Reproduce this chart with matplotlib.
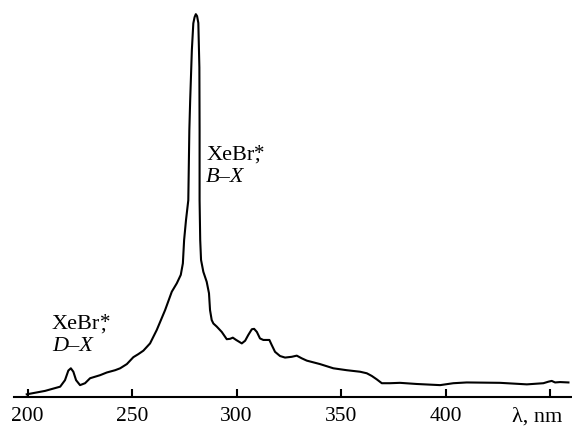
import numpy as np
import matplotlib
matplotlib.use("Agg")
import matplotlib.pyplot as plt

# emission spectrum (wavelength in nm, intensity in arb. units, peak = 100)
wl = [199.6, 208.4, 215.6, 217.9, 219.5, 220.7, 221.9, 223.2, 225.1, 227.5,
      229.9, 234.7, 237.9, 241.9, 244.3, 247.5, 250.6, 253.0, 255.4, 258.6,
      261.8, 265.8, 269.0, 271.4, 273.3, 274.3, 274.9, 275.8, 276.9, 277.4,
      277.8, 278.6, 279.3, 279.9, 280.5, 281.1, 281.7, 282.2, 282.3, 282.3,
      282.6, 283.0, 284.1, 285.7, 286.8, 287.3, 288.1, 288.9, 290.5, 292.9,
      295.3, 296.9, 298.2, 299.8, 302.5, 304.1, 305.6, 307.3, 308.4, 309.7,
      311.2, 312.8, 315.7, 316.8, 318.4, 320.8, 323.2, 326.4, 328.8, 331.2,
      333.6, 339.9, 346.3, 352.7, 359.1, 362.3, 364.7, 367.1, 369.5, 373.4,
      378.2, 386.2, 397.4, 403.7, 410.1, 426.1, 438.9, 446.8, 449.2, 450.8,
      452.4, 454.8, 458.8]
inten = [0.7, 1.6, 2.7, 4.4, 6.9, 7.5, 6.6, 4.4, 3.1, 3.6,
         4.9, 5.7, 6.4, 7.0, 7.5, 8.6, 10.4, 11.2, 12.1, 14.0,
         17.5, 22.7, 27.5, 29.7, 31.9, 34.9, 41.0, 46.2, 51.4, 69.7,
         77.5, 90.6, 97.6, 99.2, 100.0, 99.5, 97.7, 86.1, 69.7, 51.4,
         41.0, 35.8, 32.7, 30.1, 27.1, 22.7, 20.1, 19.2, 18.4, 17.0,
         15.1, 15.2, 15.5, 14.9, 14.0, 14.7, 16.2, 17.7, 17.8, 17.0,
         15.3, 14.9, 14.9, 13.6, 11.8, 10.7, 10.3, 10.5, 10.8, 10.1,
         9.5, 8.6, 7.5, 7.0, 6.6, 6.2, 5.5, 4.6, 3.6, 3.6,
         3.7, 3.4, 3.1, 3.6, 3.8, 3.7, 3.3, 3.6, 4.0, 4.2,
         3.8, 3.9, 3.8]

ticks = [200, 250, 300, 350, 400, 450]
tick_labels = ["200", "250", "300", "350", "400", ""]

plt.rcParams['font.family'] = ['Liberation Serif', 'DejaVu Serif']

fig = plt.figure(figsize=(5.72, 4.26), dpi=100)
ax = fig.add_axes([14/572, 29/426, 1 - 14/572, 1 - 29/426])

ax.plot(wl, inten, color='black', lw=1.5, solid_joinstyle='round')

ax.set_xlim(193.5, 460.5)
ax.set_ylim(0, 103.7)

for s in ['top', 'left', 'right']:
    ax.spines[s].set_visible(False)
ax.spines['bottom'].set_linewidth(1.5)

ax.set_xticks(ticks)
ax.set_xticklabels(tick_labels)
ax.set_yticks([])
ax.tick_params(axis='x', direction='in', length=6, width=1.5, pad=7, labelsize=15.5)

ax.text(431.8, -2.7, "λ, nm", fontsize=16, ha='left', va='top', clip_on=False)


def label(x, y, second):
    t = ax.text(x, y, "XeBr", fontsize=16, ha='left', va='baseline')
    ax.annotate(",", xy=(1, 0), xycoords=t, fontsize=16, ha='left', va='bottom')
    ax.annotate("*", xy=(1, 1), xycoords=t, xytext=(0, 1), textcoords='offset points',
                fontsize=15, ha='left', va='top')
    ax.text(x, y - 5.7, second, fontsize=16, style='italic', ha='left', va='baseline')


label(285.4, 61.9, "B–X")
label(211.6, 17.7, "D–X")

fig.savefig("out.png", dpi=100)
